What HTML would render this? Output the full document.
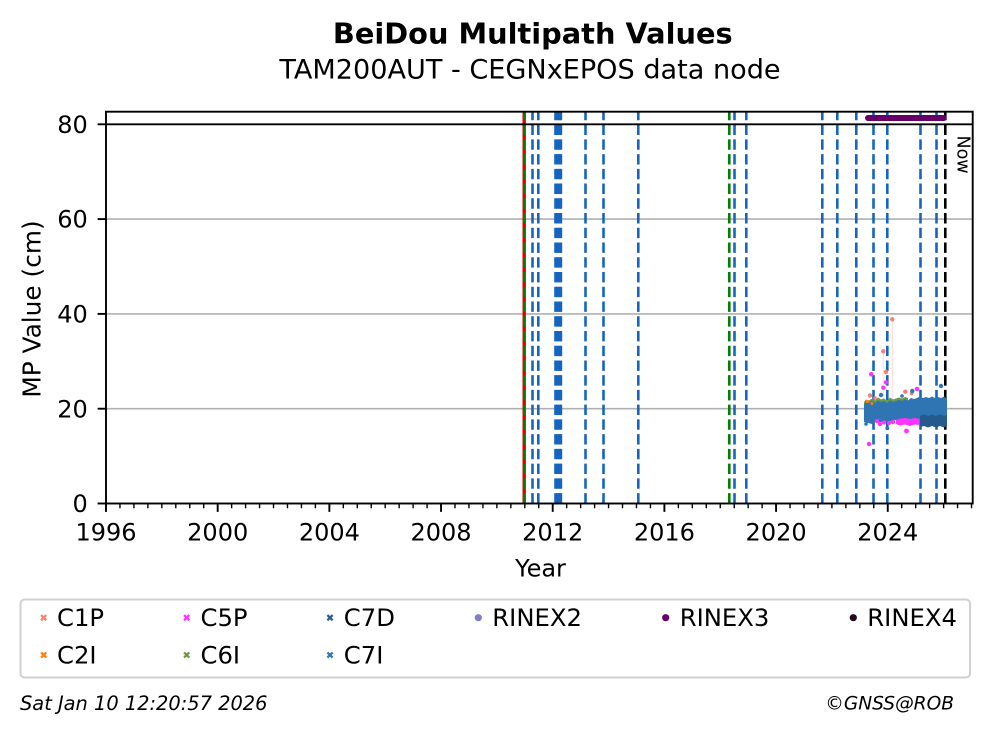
<!DOCTYPE html>
<html>
<head>
<meta charset="utf-8">
<style>
  html, body { margin: 0; padding: 0; background: #ffffff; }
  body { width: 993px; height: 734px; overflow: hidden; position: relative; }
  svg { position: absolute; left: 0; top: 0; }
  text { font-family: "DejaVu Sans", "Liberation Sans", sans-serif; fill: #000; }
</style>
</head>
<body>
<svg width="993" height="734" viewBox="0 0 993 734" xmlns="http://www.w3.org/2000/svg">
  <rect x="0" y="0" width="993" height="734" fill="#ffffff"/>

  <!-- Titles -->
  <text x="532.8" y="43.3" font-size="28.8" font-weight="bold" text-anchor="middle">BeiDou Multipath Values</text>
  <text x="530" y="78.3" font-size="27.1" text-anchor="middle">TAM200AUT - CEGNxEPOS data node</text>

  <!-- Axes background -->
  <rect x="106" y="111.7" width="866.7" height="391.8" fill="#ffffff"/>

  <!-- Horizontal grid lines (20, 40, 60) -->
  <g stroke="#b0b0b0" stroke-width="1.6">
    <line x1="106" y1="408.7" x2="972.7" y2="408.7"/>
    <line x1="106" y1="313.9" x2="972.7" y2="313.9"/>
    <line x1="106" y1="219.1" x2="972.7" y2="219.1"/>
  </g>

  <!-- Red solid line + green dashed at ~2010.9 -->
  <line x1="524.2" y1="503.5" x2="524.2" y2="111.7" stroke="#e00000" stroke-width="3.4"/>
  <path d="M524.3 503.5 V111.7" stroke="#008000" stroke-width="2.6" stroke-dasharray="10.4 4.34" fill="none"/>

  <!-- Blue dashed lines -->
  <g stroke="#1565c0" stroke-width="2.6" stroke-dasharray="10.4 4.34" fill="none">
    <path d="M532.5 503.5 V111.7"/>
    <path d="M538.3 503.5 V111.7"/>
    <path d="M555.5 503.5 V111.7"/>
    <path d="M557.5 503.5 V111.7"/>
    <path d="M559.5 503.5 V111.7"/>
    <path d="M560.9 503.5 V111.7"/>
    <path d="M585.5 503.5 V111.7"/>
    <path d="M603.5 503.5 V111.7"/>
    <path d="M638.3 503.5 V111.7"/>
    <path d="M734.5 503.5 V111.7"/>
    <path d="M746.3 503.5 V111.7"/>
    <path d="M822.3 503.5 V111.7"/>
    <path d="M837.3 503.5 V111.7"/>
    <path d="M856.3 503.5 V111.7"/>
    <path d="M873.5 503.5 V111.7"/>
    <path d="M887.3 503.5 V111.7"/>
    <path d="M920.5 503.5 V111.7"/>
    <path d="M936.5 503.5 V111.7"/>
  </g>
  <!-- Green dashed at ~2018.3 -->
  <path d="M729.3 503.5 V111.7" stroke="#008000" stroke-width="2.6" stroke-dasharray="10.4 4.34" fill="none"/>
  <!-- Black dashed "Now" line -->
  <path d="M945.3 503.5 V111.7" stroke="#000000" stroke-width="2.6" stroke-dasharray="10.4 4.34" fill="none"/>

  <!-- Horizontal black line at 80 -->
  <line x1="106" y1="124.3" x2="972.7" y2="124.3" stroke="#000" stroke-width="1.9"/>

  <!-- Faint error-like lines for outliers -->
  <g stroke="#f8c8c8" stroke-width="1" opacity="0.7">
    <line x1="892.3" y1="320" x2="892.3" y2="402"/>
    <line x1="883.3" y1="352" x2="883.3" y2="402"/>
  </g>

  <!-- RINEX3 bar -->
  <line x1="868" y1="118" x2="943.7" y2="118" stroke="#660066" stroke-width="6" stroke-linecap="round"/>

  <!-- Data cluster -->
  <polygon fill="#6a9a48" points="864,402 866,399.5 869,400.5 872,398.5 875,400.5 878,397.5 881,399.5 884,398.5 887,400.5 890,397.5 893,399.5 896,398.5 899,397.5 902,398.5 905,397 908,398 908,406 864,406"/>
  <polygon fill="#2f74b3" points="864,405 866,402 869,403 872,401 875,403 878,400.5 881,402 884,401 887,403 890,400.5 893,402 896,401 899,400 902,401 905,399.5 908,400.5 911,398 914,399 917,398 920,396.5 923,398 926,397 929,398 932,396.5 935,398 938,397 941,398 944,396.5 947,399 947,424 944,426 940,424 936,426 932,424 928,426 924,424 920,423 916,421 912,420 908,421 904,420 900,421 896,420 892,421 888,422 884,421 880,423 876,422 872,424 868,423 864,422"/>
  <polygon fill="#245a8c" points="920,416 924,414 928,416 932,414.5 936,416 940,414 944,416 947,415 947,426 944,427.5 940,426 936,427.5 932,426 928,427.5 924,426 920,427"/>
  <polygon fill="#ff33ff" points="896,420 900,418.5 905,418 910,419 915,418 919.5,419 919.5,425 915,424.5 910,426 905,424.5 900,425.5 896,424"/>
  <g fill="#ff33ff">
    <circle cx="877" cy="421" r="2.2"/>
    <circle cx="880" cy="424" r="2.2"/>
    <circle cx="884" cy="422.5" r="2"/>
    <circle cx="889" cy="423" r="2"/>
    <circle cx="893" cy="422" r="2.2"/>
    <circle cx="906.5" cy="431" r="2.4"/>
    <circle cx="869" cy="444" r="2.2"/>
    <circle cx="871.3" cy="374.3" r="2.3"/>
    <circle cx="886" cy="382.3" r="2.2"/>
    <circle cx="883.3" cy="387.7" r="2.2"/>
    <circle cx="917" cy="389" r="2.3"/>
  </g>
  <g fill="#f47f72">
    <circle cx="892.3" cy="319.3" r="2.2"/>
    <circle cx="883.3" cy="351.3" r="2.2"/>
    <circle cx="886" cy="372" r="2.2"/>
    <circle cx="870" cy="395.5" r="2.2"/>
    <circle cx="905.3" cy="391.7" r="2.2"/>
    <circle cx="911.7" cy="393.3" r="2"/>
    <circle cx="875" cy="398" r="1.8"/>
  </g>
  <g fill="#ff7f0e">
    <circle cx="867.5" cy="401.5" r="1.6"/>
    <circle cx="872" cy="403.5" r="1.5"/>
  </g>
  <g fill="#2f74b3">
    <circle cx="881" cy="395" r="2.2"/>
    <circle cx="912.3" cy="391" r="2.2"/>
    <circle cx="941" cy="386" r="2.2"/>
    <circle cx="887.3" cy="428.3" r="2"/>
    <circle cx="902" cy="396" r="1.8"/>
    <circle cx="866" cy="424" r="1.8"/>
  </g>

  <!-- Spines -->
  <rect x="106" y="111.7" width="866.7" height="391.8" fill="none" stroke="#000" stroke-width="1.9"/>

  <!-- X minor ticks (every 0.5 yr) -->
  <line x1="105.3" y1="505.9" x2="973" y2="505.9" stroke="#000" stroke-width="4.8" stroke-dasharray="1.4 12.56"/>
  <!-- X major ticks (every 4 yr) -->
  <line x1="105.05" y1="507.7" x2="973" y2="507.7" stroke="#000" stroke-width="8.4" stroke-dasharray="1.9 109.78"/>

  <!-- Y major ticks -->
  <g stroke="#000" stroke-width="1.9">
    <line x1="97.6" y1="503.5" x2="106" y2="503.5"/>
    <line x1="97.6" y1="408.7" x2="106" y2="408.7"/>
    <line x1="97.6" y1="313.9" x2="106" y2="313.9"/>
    <line x1="97.6" y1="219.1" x2="106" y2="219.1"/>
    <line x1="97.6" y1="124.3" x2="106" y2="124.3"/>
  </g>

  <!-- Y tick labels -->
  <g font-size="24" text-anchor="end">
    <text x="87.8" y="512.1">0</text>
    <text x="87.8" y="417.3">20</text>
    <text x="87.8" y="322.5">40</text>
    <text x="87.8" y="227.7">60</text>
    <text x="87.8" y="132.9">80</text>
  </g>

  <!-- X tick labels -->
  <g font-size="24" text-anchor="middle">
    <text x="106" y="540.7">1996</text>
    <text x="217.7" y="540.7">2000</text>
    <text x="329.4" y="540.7">2004</text>
    <text x="441" y="540.7">2008</text>
    <text x="552.7" y="540.7">2012</text>
    <text x="664.4" y="540.7">2016</text>
    <text x="776.1" y="540.7">2020</text>
    <text x="887.8" y="540.7">2024</text>
  </g>

  <!-- Axis labels -->
  <text x="540.5" y="576.7" font-size="24" text-anchor="middle">Year</text>
  <text transform="translate(40.6,309) rotate(-90)" x="0" y="0" font-size="24.8" text-anchor="middle">MP Value (cm)</text>

  <!-- Now label -->
  <text transform="translate(957.5,135.5) rotate(90)" x="0" y="0" font-size="17.5">Now</text>

  <!-- Legend -->
  <rect x="20.5" y="599.5" width="949.5" height="78" rx="4" ry="4" fill="#ffffff" stroke="#d0d0d0" stroke-width="2"/>
  <g stroke-width="2.3" stroke-linecap="butt">
    <path d="M41.1 615.1 L46.3 620.3 M46.3 615.1 L41.1 620.3" stroke="#fa8072"/>
    <path d="M184.1 615.1 L189.3 620.3 M189.3 615.1 L184.1 620.3" stroke="#ff33ff"/>
    <path d="M327.4 615.1 L332.6 620.3 M332.6 615.1 L327.4 620.3" stroke="#2a5d8f"/>
    <path d="M41.1 652.4 L46.3 657.6 M46.3 652.4 L41.1 657.6" stroke="#ff7f0e"/>
    <path d="M184.1 652.4 L189.3 657.6 M189.3 652.4 L184.1 657.6" stroke="#6a9a48"/>
    <path d="M327.4 652.4 L332.6 657.6 M332.6 652.4 L327.4 657.6" stroke="#3478b6"/>
  </g>
  <circle cx="478.3" cy="617.7" r="3.6" fill="#8080c0"/>
  <circle cx="665.7" cy="617.7" r="3.6" fill="#660066"/>
  <circle cx="853.3" cy="617.7" r="3.6" fill="#220a22"/>
  <g font-size="24.3">
    <text x="57" y="626">C1P</text>
    <text x="200.5" y="626">C5P</text>
    <text x="343.8" y="626">C7D</text>
    <text x="492.3" y="626">RINEX2</text>
    <text x="679.7" y="626">RINEX3</text>
    <text x="867.3" y="626">RINEX4</text>
    <text x="57" y="663.5">C2I</text>
    <text x="200.5" y="663.5">C6I</text>
    <text x="343.8" y="663.5">C7I</text>
  </g>

  <!-- Footer -->
  <text x="20" y="710" font-size="19.4" font-style="italic">Sat Jan 10 12:20:57 2026</text>
  <text x="954" y="709.5" font-size="18.6" font-style="italic" text-anchor="end">©GNSS@ROB</text>
</svg>
</body>
</html>
